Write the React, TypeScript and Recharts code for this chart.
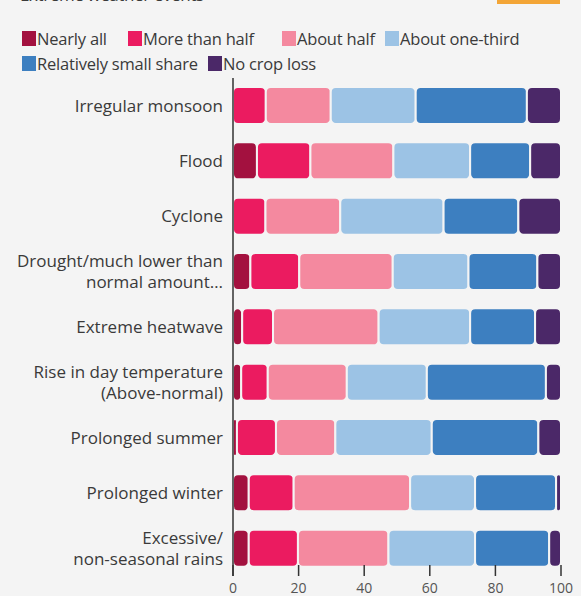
import { BarChart, Bar, XAxis, YAxis } from 'recharts'

const categories = [
  'Irregular monsoon',
  'Flood',
  'Cyclone',
  'Drought/much lower than\nnormal amount…',
  'Extreme heatwave',
  'Rise in day temperature\n(Above-normal)',
  'Prolonged summer',
  'Prolonged winter',
  'Excessive/\nnon-seasonal rains',
]

const nearlyAll = [0, 7.3, 0, 5.3, 2.8, 2.5, 1.2, 4.8, 4.8]
const moreThanHalf = [10, 16.3, 9.9, 14.9, 9.4, 8.1, 11.9, 13.7, 15]
const aboutHalf = [19.8, 25.3, 22.8, 28.5, 32.2, 24.1, 18.1, 35.5, 27.6]
const aboutOneThird = [25.9, 23.4, 31.5, 23.1, 27.9, 24.4, 29.4, 19.8, 26.4]
const smallShare = [33.9, 18.3, 22.8, 21, 19.8, 36.3, 32.5, 24.7, 22.6]
const noCropLoss = [10.4, 9.4, 13, 7.2, 7.9, 4.6, 6.9, 1.5, 3.6]

const xTicks = [0, 20, 40, 60, 80, 100]

const series = [
  { key: 'nearlyAll', name: 'Nearly all', color: '#a3113f', values: nearlyAll },
  { key: 'moreThanHalf', name: 'More than half', color: '#eb1b60', values: moreThanHalf },
  { key: 'aboutHalf', name: 'About half', color: '#f4899f', values: aboutHalf },
  { key: 'aboutOneThird', name: 'About one-third', color: '#9cc3e5', values: aboutOneThird },
  { key: 'smallShare', name: 'Relatively small share', color: '#3d7fc0', values: smallShare },
  { key: 'noCropLoss', name: 'No crop loss', color: '#4b2868', values: noCropLoss },
]

const data = categories.map((name, i) => {
  const row: Record<string, string | number> = { name }
  series.forEach((s) => {
    row[s.key] = s.values[i]
  })
  return row
})

const BG = '#f4f4f4'
const FONT = '"Open Sans", sans-serif'

// legend item placement (left edge, row)
const legendPos = [
  [22, 0],
  [128, 0],
  [282, 0],
  [385, 0],
  [22, 1],
  [208, 1],
]

function YTick(props: any) {
  const { x, y, payload } = props
  const lines = String(payload.value).split('\n')
  const start = -(lines.length - 1) * 10.5
  return (
    <text x={x} y={y} textAnchor="end" fontSize={17} fill="#3a3a3a" fontFamily={FONT}>
      {lines.map((l, i) => (
        <tspan key={i} x={x} y={y + start + i * 21} dy="0.35em">
          {l}
        </tspan>
      ))}
    </text>
  )
}

function XTick(props: any) {
  const { x, y, payload } = props
  return (
    <g>
      <line x1={x} x2={x} y1={y - 11} y2={y} stroke="#333" strokeWidth={1.5} />
      <text x={x} y={y + 12} dy="0.35em" textAnchor="middle" fontSize={14} fill="#555" fontFamily={FONT}>
        {payload.value}
      </text>
    </g>
  )
}

export default function App() {
  return (
    <div
      style={{
        position: 'absolute',
        left: 0,
        top: 0,
        width: 581,
        height: 596,
        background: BG,
        overflow: 'hidden',
        fontFamily: FONT,
      }}
    >
      <div
        style={{
          position: 'absolute',
          left: 20,
          top: -17,
          fontSize: 17,
          color: '#3a3a3a',
          letterSpacing: -0.4,
          whiteSpace: 'nowrap',
        }}
      >
        Extreme weather events
      </div>
      <div
        style={{
          position: 'absolute',
          left: 497,
          top: 0,
          width: 63,
          height: 4,
          background: '#f3a536',
        }}
      />
      {series.map((s, idx) => (
        <div
          key={s.key}
          style={{
            position: 'absolute',
            left: legendPos[idx][0],
            top: 27 + legendPos[idx][1] * 25,
            display: 'flex',
            alignItems: 'center',
            whiteSpace: 'nowrap',
          }}
        >
          <div style={{ width: 14, height: 15, background: s.color, marginRight: 1 }} />
          <span style={{ fontSize: 16.5, color: '#3a3a3a', letterSpacing: -0.2 }}>{s.name}</span>
        </div>
      ))}
      <div style={{ position: 'absolute', left: 0, top: 0 }}>
        <BarChart
          width={581}
          height={596}
          data={data}
          layout="vertical"
          margin={{ top: 78, right: 20, bottom: 0, left: 0 }}
          barSize={37}
        >
          <XAxis
            type="number"
            domain={[0, 100]}
            ticks={xTicks}
            axisLine={false}
            tickLine={false}
            tickSize={0}
            tickMargin={0}
            height={20}
            tick={<XTick />}
            interval={0}
          />
          <YAxis
            type="category"
            dataKey="name"
            width={233}
            axisLine={{ stroke: '#333', strokeWidth: 1.5 }}
            tickLine={false}
            tickSize={0}
            tickMargin={10}
            tick={<YTick />}
            interval={0}
          />
          {series.map((s) => (
            <Bar
              key={s.key}
              dataKey={s.key}
              name={s.name}
              stackId="a"
              fill={s.color}
              stroke={BG}
              strokeWidth={2}
              radius={5}
              isAnimationActive={false}
            />
          ))}
        </BarChart>
      </div>
    </div>
  )
}
